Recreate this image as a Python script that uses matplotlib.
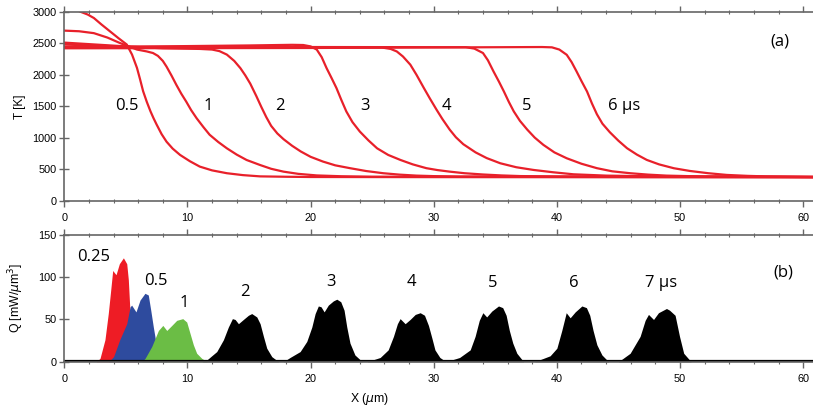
import matplotlib
matplotlib.use("Agg")
import matplotlib.pyplot as plt
from matplotlib.ticker import MultipleLocator

# ---- panel (a): temperature fronts, T [K] vs X (um) ----
t05_x = [0.5, 1.3, 1.9, 2.4, 3.0, 3.7, 4.4, 5.07, 5.5, 5.9, 6.15, 6.4, 6.7, 7.0, 7.25, 7.5, 7.9, 8.3,
         8.8, 9.4, 10.2, 11.0, 12.0, 13.2, 14.5, 15.9, 18.0, 20.0, 30.0, 61.0]
t05_y = [3080, 3000, 2955, 2900, 2800, 2690, 2580, 2480, 2320, 2110, 1930, 1740, 1570, 1420, 1310, 1210, 1060, 940,
         830, 730, 630, 545, 485, 440, 410, 390, 384, 380, 378, 375]

t1_x = [0.0, 1.2, 2.4, 3.5, 4.5, 5.1, 5.9, 6.7, 7.2, 7.6, 8.0, 8.3, 8.7, 9.1, 9.5, 9.9, 10.3, 10.75,
        11.3, 11.8, 12.5, 13.2, 14.0, 14.8, 15.9, 16.8, 17.8, 19.0, 20.5, 22.5, 25.0, 61.0]
t1_y = [2700, 2690, 2660, 2590, 2505, 2460, 2400, 2370, 2345, 2300, 2220, 2130, 1990, 1840, 1700, 1575, 1440, 1310,
        1170, 1050, 935, 835, 735, 650, 570, 510, 465, 430, 405, 392, 385, 378]

t2_x = [0.0, 2.5, 5.0, 8.0, 11.0, 12.0, 12.6, 13.2, 13.8, 14.3, 14.7, 15.1, 15.6, 16.0, 16.4, 16.8, 17.3,
        17.8, 18.5, 19.2, 20.0, 21.0, 22.0, 23.2, 24.5, 25.9, 27.2, 28.6, 30.0, 32.0, 61.0]
t2_y = [2510, 2480, 2450, 2420, 2410, 2400, 2375, 2320, 2220, 2105, 1990, 1860, 1660, 1490, 1330, 1190, 1070,
        980, 875, 785, 700, 625, 565, 520, 475, 440, 418, 402, 394, 388, 380]

t3_x = [0.0, 5.0, 10.0, 15.0, 18.5, 19.4, 20.0, 20.5, 20.9, 21.3, 21.7, 22.1, 22.5, 22.9, 23.4, 24.0, 24.7,
        25.4, 26.3, 27.3, 28.3, 29.4, 30.3, 31.3, 32.5, 34.0, 35.5, 37.0, 40.0, 61.0]
t3_y = [2480, 2445, 2455, 2465, 2475, 2472, 2450, 2400, 2280, 2105, 1950, 1790, 1600, 1420, 1250, 1100, 960,
        835, 730, 650, 580, 520, 490, 465, 440, 420, 405, 395, 388, 380]

t4_x = [0.0, 5.0, 15.0, 25.8, 26.5, 27.0, 27.5, 28.1, 28.6, 29.2, 29.7, 30.25, 30.7, 31.3, 31.8, 32.4, 33.4,
        34.3, 35.4, 36.7, 38.1, 39.7, 41.35, 44.0, 48.0, 61.0]
t4_y = [2440, 2440, 2435, 2432, 2410, 2370, 2290, 2160, 2000, 1790, 1620, 1440, 1300, 1130, 1010, 900, 770,
        680, 598, 535, 492, 455, 423, 402, 390, 380]

t5_x = [0.0, 20.0, 32.6, 33.3, 34.0, 34.4, 34.85, 35.3, 35.7, 36.1, 36.5, 37.0, 37.6, 38.2, 38.9, 39.8, 40.8,
        42.0, 43.25, 44.5, 45.95, 47.4, 48.9, 52.0, 61.0]
t5_y = [2445, 2440, 2437, 2415, 2345, 2230, 2055, 1890, 1735, 1570, 1420, 1270, 1130, 1005, 890, 770, 677,
        590, 520, 470, 440, 418, 402, 388, 380]

t6_x = [0.0, 20.0, 38.8, 39.6, 40.2, 40.8, 41.2, 41.6, 42.0, 42.45, 42.85, 43.25, 43.7, 44.3, 45.0, 45.7,
        46.5, 47.3, 48.3, 49.5, 50.8, 52.3, 53.8, 55.5, 57.0, 61.0]
t6_y = [2420, 2425, 2440, 2435, 2400, 2317, 2200, 2053, 1900, 1735, 1545, 1375, 1225, 1090, 955, 836,
        735, 651, 580, 519, 476, 440, 413, 398, 390, 382]

t_curves = [(t05_x, t05_y), (t1_x, t1_y), (t2_x, t2_y), (t3_x, t3_y),
            (t4_x, t4_y), (t5_x, t5_y), (t6_x, t6_y)]
t_labels = ["0.5", "1", "2", "3", "4", "5", "6 \u00b5s"]
t_label_x = [5.07, 11.7, 17.5, 24.4, 31.06, 37.56, 45.5]
t_label_y = [1500, 1500, 1500, 1500, 1500, 1500, 1500]

# ---- panel (b): heat source Q [mW/um^3] ----
q025_x = [2.6, 2.9, 3.3, 3.57, 3.77, 3.93, 4.2, 4.47, 4.8, 5.07, 5.2, 5.34, 5.47, 5.66, 5.9]
q025_y = [0, 4, 26, 57, 85, 108, 103, 116, 123, 116, 97, 57, 26, 6, 0]

q05_x = [3.6, 4.0, 4.5, 5.07, 5.34, 5.47, 5.82, 6.15, 6.55, 6.82, 7.02, 7.23, 7.45, 7.77, 8.3]
q05_y = [0, 6, 26, 45, 65, 67, 59, 73, 81, 79, 61, 41, 22, 6, 0]

q1_x = [6.3, 6.56, 7.1, 7.64, 8.0, 8.32, 8.73, 9.13, 9.62, 9.94, 10.2, 10.48, 10.75, 11.16, 11.6]
q1_y = [0, 4, 18, 37, 43, 37, 43, 49, 51, 47, 34, 20, 10, 4, 0]

q2_x = [11.2, 11.57, 11.97, 12.38, 12.92, 13.32, 13.65, 13.87, 14.14, 14.54, 14.95, 15.22, 15.63, 15.9, 16.17, 16.44, 16.85, 17.4]
q2_y = [0, 2, 7, 12, 26, 41, 51, 50, 45, 50, 55, 57, 53, 45, 30, 16, 6, 0]

q3_x = [17.8, 18.33, 19.15, 19.69, 20.1, 20.37, 20.63, 20.85, 21.1, 21.44, 21.85, 22.13, 22.45, 22.72, 22.94, 23.2, 23.6, 24.2]
q3_y = [0, 5, 12, 24, 41, 57, 66, 65, 59, 67, 72, 74, 71, 61, 41, 22, 8, 0]

q4_x = [24.6, 25.65, 26.3, 26.73, 27.05, 27.27, 27.68, 28.08, 28.5, 28.9, 29.25, 29.57, 29.85, 30.1, 30.5, 31.0]
q4_y = [0, 5, 14, 30, 45, 51, 45, 50, 56, 58, 55, 43, 28, 14, 5, 0]

q5_x = [31.0, 32.1, 32.96, 33.36, 33.7, 33.99, 34.3, 34.72, 35.26, 35.6, 35.88, 36.14, 36.42, 36.75, 37.3]
q5_y = [0, 5, 14, 30, 49, 58, 53, 60, 66, 64, 55, 37, 22, 10, 0]

q6_x = [38.2, 39.45, 40.0, 40.4, 40.76, 41.08, 41.49, 42.03, 42.4, 42.67, 42.94, 43.25, 43.66, 44.2]
q6_y = [0, 7, 16, 37, 58, 52, 59, 66, 64, 55, 37, 20, 8, 0]

q7_x = [45.0, 45.95, 46.76, 47.17, 47.44, 47.85, 48.25, 48.9, 49.15, 49.6, 49.96, 50.3, 50.9]
q7_y = [0, 10, 30, 49, 56, 50, 58, 63, 61, 55, 30, 10, 0]

q_peaks = [(q025_x, q025_y), (q05_x, q05_y), (q1_x, q1_y), (q2_x, q2_y), (q3_x, q3_y),
           (q4_x, q4_y), (q5_x, q5_y), (q6_x, q6_y), (q7_x, q7_y)]
q_colors = ["#ee1c25", "#2e4b9e", "#6bbd45", "black", "black", "black", "black", "black", "black"]
q_labels = ["0.25", "0.5", "1", "2", "3", "4", "5", "6", "7 \u00b5s"]
q_label_x = [2.36, 7.42, 9.72, 14.68, 21.64, 28.2, 34.77, 41.35, 48.5]
q_label_y = [124, 95, 70, 82, 94, 94, 93, 93, 93]

LABEL_FONT = ["Open Sans", "DejaVu Sans"]
TICK_FONT = "Liberation Sans"
SPINE = "#666666"

fig = plt.figure(figsize=(8.13, 4.09), dpi=100)
ax1 = fig.add_axes([0.0791, 0.5086, 0.9209, 0.4628])
ax2 = fig.add_axes([0.0791, 0.1156, 0.9209, 0.3098])


def style_axes(ax):
    ax.spines["right"].set_visible(False)
    for s in ["left", "top", "bottom"]:
        ax.spines[s].set_color(SPINE)
        ax.spines[s].set_linewidth(1.2)
    ax.set_xlim(0, 60.8)
    ax.xaxis.set_major_locator(MultipleLocator(10))
    ax.xaxis.set_minor_locator(MultipleLocator(2))
    ax.tick_params(axis="x", which="major", direction="out", length=4, width=1,
                   color=SPINE, top=True, labelsize=7.8, pad=5)
    ax.tick_params(axis="x", which="minor", direction="inout", length=3, width=0.8,
                   color=SPINE, top=True)
    ax.tick_params(axis="y", which="major", direction="inout", length=7, width=1,
                   color=SPINE, labelsize=7.8, pad=2)
    for lab in ax.get_xticklabels() + ax.get_yticklabels():
        lab.set_family(TICK_FONT)


# panel (a)
for cx, cy in t_curves:
    ax1.plot(cx, cy, color="#e8202a", lw=1.6, solid_capstyle="round", solid_joinstyle="round")
for lab, lx, ly in zip(t_labels, t_label_x, t_label_y):
    ax1.text(lx, ly, lab, family=LABEL_FONT, fontsize=12, ha="center", va="center")
ax1.text(58.1, 2520, "(a)", family=LABEL_FONT, fontsize=12, ha="center", va="center")
ax1.set_ylim(0, 3000)
ax1.yaxis.set_major_locator(MultipleLocator(500))
style_axes(ax1)
ax1.set_ylabel("T [K]", family=TICK_FONT, fontsize=8.5)
ax1.yaxis.set_label_coords(-0.051, 0.5)

# panel (b)
for (px, py), c in zip(q_peaks, q_colors):
    ax2.fill_between(px, 0, py, color=c, lw=0)
ax2.plot([0, 60.8], [0.8, 0.8], color="black", lw=1.6)
for lab, lx, ly in zip(q_labels, q_label_x, q_label_y):
    ax2.text(lx, ly, lab, family=LABEL_FONT, fontsize=12, ha="center", va="center")
ax2.text(58.4, 106, "(b)", family=LABEL_FONT, fontsize=12, ha="center", va="center")
ax2.set_ylim(0, 150)
ax2.yaxis.set_major_locator(MultipleLocator(50))
style_axes(ax2)
ax2.tick_params(axis="x", which="both", labeltop=False)
ax2.set_ylabel(r"Q [mW/$\mu$m$^3$]", family=TICK_FONT, fontsize=8.8)
ax2.yaxis.set_label_coords(-0.051, 0.5)
ax2.set_xlabel(r"X ($\mu$m)", family=TICK_FONT, fontsize=8.8)
ax2.xaxis.set_label_coords(0.408, -0.235)

fig.savefig("out.png", dpi=100)
